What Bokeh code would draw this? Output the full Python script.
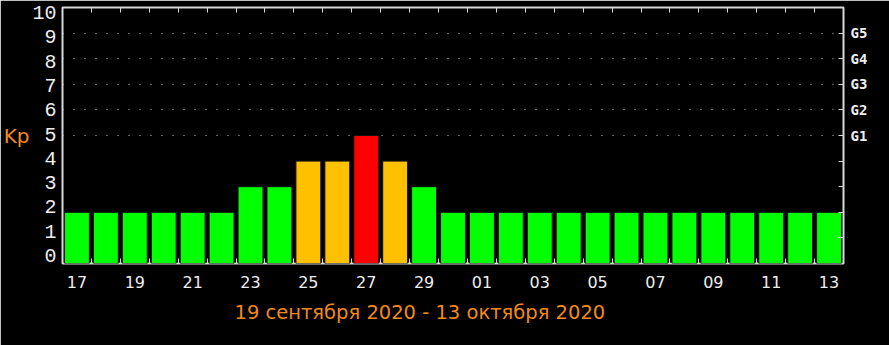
from bokeh.plotting import figure
from bokeh.models import FixedTicker, LinearAxis, Title, Range1d, ColumnDataSource
from bokeh.embed import file_html
from bokeh.resources import INLINE

days = ["17", "18", "19", "20", "21", "22", "23", "24", "25", "26", "27", "28", "29", "30",
        "01", "02", "03", "04", "05", "06", "07", "08", "09", "10", "11", "12", "13"]
kp = [2, 2, 2, 2, 2, 2, 3, 3, 4, 4, 5, 4, 3, 2,
      2, 2, 2, 2, 2, 2, 2, 2, 2, 2, 2, 2, 2]
y_ticks = list(range(0, 11))
g_levels = {5: "G1", 6: "G2", 7: "G3", 8: "G4", 9: "G5"}
title_text = "19 сентября 2020 - 13 октября 2020"

def colour(v):
    if v >= 5:
        return "#FF0000"
    if v == 4:
        return "#FFC000"
    return "#00FF00"

xs = [i + 0.5 for i in range(len(days))]
src = ColumnDataSource(dict(x=xs, top=kp, color=[colour(v) for v in kp]))

p = figure(width=889, height=345, output_backend="svg", toolbar_location=None,
           x_range=Range1d(0, len(days)), y_range=Range1d(0, 10),
           min_border_left=60, min_border_right=46, min_border_top=7, min_border_bottom=82,
           background_fill_color="black", border_fill_color="black",
           x_axis_location="below", y_axis_location=None)
p.outline_line_color = "#d8d8d8"
p.outline_line_width = 2

p.vbar(x="x", top="top", width=0.86, bottom=0, fill_color="color", line_color="#101010",
       line_width=1, source=src)

# grid
p.xgrid.visible = False
p.ygrid.ticker = FixedTicker(ticks=list(g_levels.keys()))
p.ygrid.grid_line_color = "#c8c8c8"
p.ygrid.grid_line_dash = "1 10"
p.ygrid.grid_line_width = 1

# bottom x axis
xa = p.xaxis[0]
label_pos = [xs[i] for i in range(0, len(days), 2)]
xa.ticker = FixedTicker(ticks=label_pos, minor_ticks=list(range(0, len(days) + 1)))
xa.major_label_overrides = {xs[i]: days[i] for i in range(0, len(days), 2)}
xa.major_tick_line_color = None
xa.minor_tick_line_color = "#d8d8d8"
xa.minor_tick_in = 5
xa.minor_tick_out = 0
xa.axis_line_color = None
xa.major_label_text_color = "#eeeeee"
xa.major_label_text_font = "DejaVu Sans"
xa.major_label_text_font_size = "16px"
xa.major_label_standoff = 6

# top axis ticks
ta = LinearAxis(ticker=FixedTicker(ticks=[], minor_ticks=list(range(0, len(days) + 1))))
ta.axis_line_color = None
ta.minor_tick_line_color = "#d8d8d8"
ta.minor_tick_in = 5
ta.minor_tick_out = 0
ta.major_tick_line_color = None
ta.major_label_text_font_size = "0px"
p.add_layout(ta, "above")

# left y axis: label range slightly stretched so that the end labels stay inside the picture
p.extra_y_ranges = {"labels": Range1d(-0.33, 10.21)}
ya = LinearAxis(y_range_name="labels", ticker=FixedTicker(ticks=y_ticks))
ya.major_tick_line_color = None
ya.minor_tick_line_color = None
ya.axis_line_color = None
ya.major_label_text_color = "#eeeeee"
ya.major_label_text_font = "Liberation Mono"
ya.major_label_text_font_size = "20px"
ya.major_label_standoff = 0
ya.axis_label = "Kp"
ya.axis_label_orientation = "horizontal"
ya.axis_label_text_color = "#F08A1C"
ya.axis_label_text_font = "DejaVu Sans"
ya.axis_label_text_font_style = "normal"
ya.axis_label_text_font_size = "20px"
ya.axis_label_standoff = 0
p.add_layout(ya, "left")

# right axis (G levels)
ra = LinearAxis(ticker=FixedTicker(ticks=list(range(1, 10))))
ra.major_label_overrides = {k: g_levels.get(k, "") for k in range(1, 10)}
ra.major_tick_in = 5
ra.major_tick_out = 0
ra.major_tick_line_color = "#d8d8d8"
ra.minor_tick_line_color = None
ra.axis_line_color = None
ra.major_label_text_color = "#eeeeee"
ra.major_label_text_font = "DejaVu Sans Mono"
ra.major_label_text_font_style = "bold"
ra.major_label_text_font_size = "14px"
ra.major_label_standoff = 7
p.add_layout(ra, "right")

# bottom title
t = Title(text=title_text, align="left", offset=172, text_color="#F08A1C",
          text_font="DejaVu Sans", text_font_style="normal", text_font_size="19.5px",
          standoff=20, vertical_align="top")
p.add_layout(t, "below")

open("out.html", "w").write(file_html(p, INLINE))
